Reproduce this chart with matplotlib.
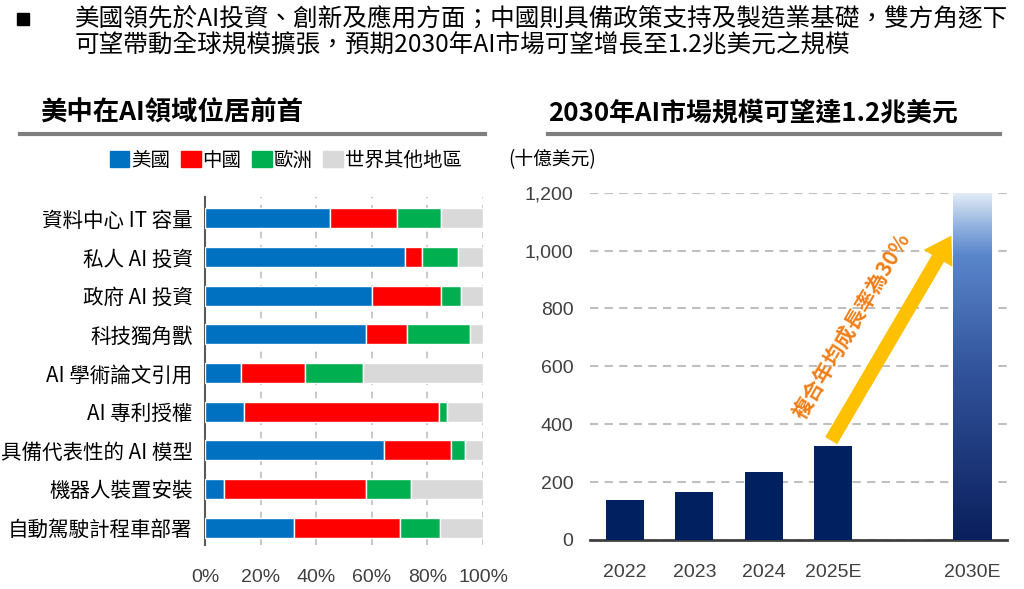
import numpy as np
import matplotlib
matplotlib.use('Agg')
from matplotlib import pyplot as plt
from matplotlib.colors import LinearSegmentedColormap
from matplotlib.patches import Patch

plt.rcParams['font.family'] = ['Noto Sans CJK TC', 'DejaVu Sans']

# left chart: share by region (%)
categories = ['資料中心 IT 容量', '私人 AI 投資', '政府 AI 投資', '科技獨角獸', 'AI 學術論文引用',
              'AI 專利授權', '具備代表性的 AI 模型', '機器人裝置安裝', '自動駕駛計程車部署']
usa = [45, 72, 60, 58, 13, 14, 64.5, 7, 32]
china = [24, 6, 25, 14.5, 23, 70, 24, 51, 38]
europe = [16, 13, 7, 23, 21, 3, 5, 16, 14.5]
rest = [15, 9, 8, 4.5, 43, 13, 6.5, 26, 15.5]
regions = ['美國', '中國', '歐洲', '世界其他地區']
region_colors = ['#0070C0', '#FF0000', '#00B050', '#D9D9D9']

# right chart: AI market size (billion USD)
years = ['2022', '2023', '2024', '2025E', '2030E']
market = [138, 165, 234, 325, 1200]

num_font = ['Liberation Sans', 'DejaVu Sans']

fig = plt.figure(figsize=(10.24, 5.89), dpi=100)

# header
fig.add_artist(plt.Rectangle((17/1024, 1-25/589), 12/1024, 12/589, color='black', transform=fig.transFigure))
fig.text(75/1024, 1-18/589, '美國領先於AI投資、創新及應用方面；中國則具備政策支持及製造業基礎，雙方角逐下',
         fontsize=17.7, va='center', ha='left')
fig.text(75/1024, 1-46/589, '可望帶動全球規模擴張，預期2030年AI市場可望增長至1.2兆美元之規模',
         fontsize=17.7, va='center', ha='left')

# section titles
fig.text(40/1024, 1-113/589, '美中在AI領域位居前首', fontsize=19, fontweight='bold', va='center')
fig.text(548/1024, 1-113/589, '2030年AI市場規模可望達1.2兆美元', fontsize=18.6, fontweight='bold', va='center')
fig.add_artist(plt.Line2D([20/1024, 485/1024], [1-134/589, 1-134/589], color='#7f7f7f', lw=3))
fig.add_artist(plt.Line2D([548/1024, 1000/1024], [1-134/589, 1-134/589], color='#7f7f7f', lw=3))

# ---- left chart
ax = fig.add_axes([205/1024, 1-545/589, 278/1024, 348/589])
y = np.arange(len(categories))
left = np.zeros(len(categories))
for vals, col in zip([usa, china, europe, rest], region_colors):
    ax.barh(y, vals, left=left, height=0.52, color=col, edgecolor='white', linewidth=1, zorder=3)
    left += np.array(vals)
ax.set_xlim(0, 100)
ax.set_ylim(8.45, -0.55)
ax.set_yticks(y)
ax.set_yticklabels(categories, fontsize=14.8)
ax.set_xticks([0, 20, 40, 60, 80, 100])
ax.set_xticklabels([f'{v}%' for v in [0, 20, 40, 60, 80, 100]], family=num_font, fontsize=14, color='#404040')
ax.tick_params(axis='both', length=0)
ax.tick_params(axis='y', pad=9)
ax.tick_params(axis='x', pad=17)
ax.xaxis.grid(True, color='#bfbfbf', linestyle=(0, (4, 4)), linewidth=1.2, zorder=0)
ax.set_axisbelow(True)
for s in ['top', 'right', 'bottom']:
    ax.spines[s].set_visible(False)
ax.spines['left'].set_color('#595959')
ax.spines['left'].set_linewidth(1.5)

handles = [Patch(color=c) for c in region_colors]
fig.legend(handles, regions, loc='center left', bbox_to_anchor=(110/1024, 1-160/589), ncol=4,
           frameon=False, fontsize=14, handlelength=1.0, handleheight=0.9, handletextpad=0.1,
           columnspacing=0.55, borderpad=0, borderaxespad=0)

# ---- right chart
ax2 = fig.add_axes([590/1024, 1-540/589, 417/1024, 347.3/589])
xpos = [0, 1, 2, 3, 5]
w = 0.55
ax2.bar(xpos[:4], market[:4], width=w, color='#002060', zorder=3)
bar = ax2.bar(xpos[4], market[4], width=w, color='#0a1f5c', zorder=3)[0]
cmap = LinearSegmentedColormap.from_list('g', [(0, '#0a1f5c'), (0.5, '#33559e'),
                                               (0.82, '#5a86cc'), (0.9, '#8fb0df'), (1, '#e3ecf7')])
grad = np.linspace(0, 1, 256).reshape(-1, 1)
im = ax2.imshow(grad, extent=[xpos[4]-w/2, xpos[4]+w/2, 0, market[4]], origin='lower',
                aspect='auto', cmap=cmap, zorder=4)
im.set_clip_path(bar)
ax2.set_xlim(-0.5, 5.5)
ax2.set_ylim(0, 1200)
ax2.set_yticks(range(0, 1201, 200))
ax2.set_yticklabels([f'{v:,}' for v in range(0, 1201, 200)], family=num_font, fontsize=14, color='#404040')
ax2.set_xticks(xpos)
ax2.set_xticklabels(years, family=num_font, fontsize=14, color='#404040')
ax2.tick_params(axis='both', length=0)
ax2.tick_params(axis='y', pad=12)
ax2.tick_params(axis='x', pad=17)
ax2.yaxis.grid(True, color='#bfbfbf', linestyle=(0, (4, 3)), linewidth=1.5, zorder=0)
ax2.set_axisbelow(True)
for s in ['top', 'right', 'left']:
    ax2.spines[s].set_visible(False)
ax2.spines['bottom'].set_color('#404040')
ax2.spines['bottom'].set_linewidth(2)
fig.text(508/1024, 1-160/589, '(十億美元)', fontsize=13.5, ha='left', va='center')

ax2.annotate('', xy=(4.72, 1060), xytext=(2.95, 335),
             arrowprops=dict(arrowstyle='simple,head_width=2.4,head_length=1.9,tail_width=1.0',
                             mutation_scale=10, color='#FFC000', lw=0), zorder=5)
ax2.text(3.27, 738, '複合年均成長率為30%', rotation=59.6, rotation_mode='anchor', ha='center', va='center',
         fontsize=15, fontweight='bold', color='#F07F18', zorder=6)

fig.savefig('out.png', dpi=100)
